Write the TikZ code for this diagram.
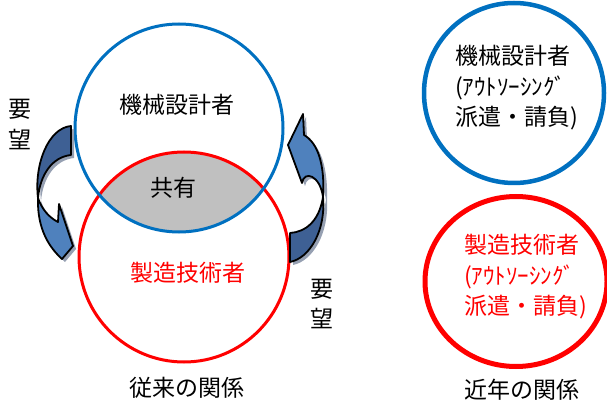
\documentclass[tikz,border=0pt]{standalone}
\usepackage{fontspec}
\newfontfamily\jp{Noto Sans CJK JP}
\usetikzlibrary{shapes.geometric}
\definecolor{vblue}{RGB}{0,112,192}
\definecolor{vred}{RGB}{255,0,0}
\definecolor{lens}{RGB}{192,192,192}
\definecolor{arrdark}{RGB}{62,96,148}
\definecolor{arrlight}{RGB}{79,129,189}
\definecolor{arrshadow}{RGB}{150,160,178}
\begin{document}
\begin{tikzpicture}[x=1pt,y=-1pt,
  lbl/.style={font=\jp\fontsize{23}{30.5}\selectfont, inner sep=0pt},
  ring/.style={circle, inner sep=0pt, outer sep=0pt, draw},
  arrline/.style={draw=black, line width=1.8pt, line join=round},
]
\useasboundingbox (0,0) rectangle (607,403);

% ---------- Venn diagram ----------
\begin{scope}
  \clip (179,128) circle[radius=104pt];
  \fill[lens] (184,257) circle[radius=105pt];
\end{scope}
\node[ring, draw=vred, line width=3pt, minimum size=210pt] (vr) at (184,257) {};
\node[ring, draw=vblue, line width=3pt, minimum size=208pt] (vb) at (179,128) {};

\node[lbl] (kikai) at (177,105) {機械設計者};
\node[lbl] (kyoyu) at (173,188) {共有};
\node[lbl, text=vred] (seizo) at (188,273) {製造技術者};
\node[lbl] (jurai) at (187,388) {従来の関係};

% ---------- request labels ----------
\node[lbl] (yoL1) at (20,109) {要};
\node[lbl] (yoL2) at (20,140) {望};
\node[lbl] (yoR1) at (322,289) {要};
\node[lbl] (yoR2) at (322,319) {望};

% ---------- left curved arrow ----------
\fill[arrshadow, shift={(3,3)}]
  (71,126) -- (71,155) .. controls (52,157) and (40,175) .. (38,198)
  .. controls (42,210) and (50,218) .. (58,222) -- (59,204) -- (73,246) -- (62,259)
  .. controls (50,248) and (37,230) .. (38,198)
  .. controls (34,165) and (48,128) .. cycle;
\filldraw[arrline, fill=arrdark]
  (71,126) -- (71,155) .. controls (52,157) and (40,175) .. (38,198)
  .. controls (34,165) and (48,128) .. cycle;
\filldraw[arrline, fill=arrlight]
  (38,198) .. controls (42,210) and (50,218) .. (58,222) -- (59,204) -- (73,246) -- (62,259)
  .. controls (50,248) and (37,230) .. cycle;

% ---------- right curved arrow ----------
\fill[arrshadow, shift={(3,3)}]
  (303,114) -- (288,145) -- (302,183) .. controls (304,170) and (320,175) .. (323,197)
  .. controls (319,222) and (305,232) .. (290,233) -- (290,262)
  .. controls (310,258) and (326,230) .. (324,197)
  .. controls (325,165) and (318,143) .. (304,135) -- cycle;
\filldraw[arrline, fill=arrdark]
  (323,197) .. controls (326,230) and (310,258) .. (290,262) -- (290,233)
  .. controls (305,232) and (319,222) .. cycle;
\filldraw[arrline, fill=arrlight]
  (303,114) -- (288,145) -- (302,183) .. controls (304,170) and (320,175) .. (323,197)
  .. controls (325,165) and (318,143) .. (304,135) -- cycle;

% ---------- recent relation ----------
\node[ring, draw=vblue, line width=4.5pt, minimum size=180pt] (rb) at (514,93) {};
\node[ellipse, draw=vred, line width=5pt, inner sep=0pt, outer sep=0pt,
      minimum width=182pt, minimum height=170pt] (rr) at (516,281.5) {};
\node[lbl, align=left, anchor=west] (rbt) at (455,88)
  {機械設計者\\(ｱｳﾄｿｰｼﾝｸﾞ\\派遣・請負)};
\node[lbl, align=left, anchor=west, text=vred] (rrt) at (464,277)
  {製造技術者\\(ｱｳﾄｿｰｼﾝｸﾞ\\派遣・請負)};
\node[lbl] (kinnen) at (522,390) {近年の関係};
\end{tikzpicture}
\end{document}
